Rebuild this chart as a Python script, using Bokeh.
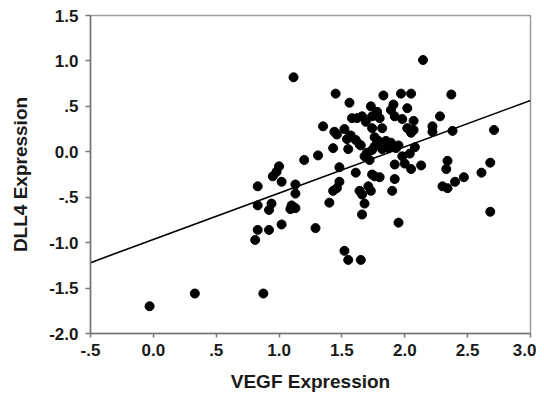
import numpy as np
from bokeh.plotting import figure
from bokeh.models import ColumnDataSource, FixedTicker
from bokeh.embed import file_html
from bokeh.resources import INLINE

# VEGF expression (x) and DLL4 expression (y)
vegf = [-0.03, 0.33, 0.875, 1.115, 2.145, 1.45, 1.83, 1.97, 2.05, 2.37,
        1.56, 1.73, 1.91, 2.02, 1.89, 1.78, 1.74, 1.66, 1.58, 1.62,
        1.80, 1.92, 1.98, 2.07, 2.28, 1.69, 1.35, 1.74, 1.82, 2.22,
        1.52, 2.02, 2.07, 2.05, 2.71, 2.38, 1.44, 1.46, 2.22, 1.57,
        1.54, 1.76, 1.61, 1.79, 1.85, 1.89, 1.64, 1.65, 1.95, 1.76,
        1.43, 1.55, 1.74, 1.82, 1.87, 1.93, 2.08, 1.70, 2.04, 1.31,
        1.98, 1.68, 1.20, 1.72, 2.34, 2.00, 1.92, 1.00, 2.13, 1.48,
        2.05, 2.33, 0.98, 1.61, 2.61, 2.68, 0.95, 1.74, 1.76, 1.80,
        2.47, 1.48, 1.92, 1.02, 2.40, 1.13, 2.30, 0.83, 1.71, 2.34,
        1.46, 1.64, 1.43, 1.73, 1.90, 1.66, 1.13, 1.40, 1.68, 0.94,
        0.83, 1.10, 0.92, 1.09, 1.13, 2.68, 1.66, 0.83, 0.92, 1.02,
        1.29, 0.81, 1.95, 1.52, 1.55, 1.65]
dll4 = [-1.70, -1.56, -1.56, 0.82, 1.01, 0.64, 0.62, 0.64, 0.64, 0.63,
        0.54, 0.50, 0.52, 0.48, 0.46, 0.44, 0.39, 0.39, 0.37, 0.37,
        0.37, 0.39, 0.36, 0.34, 0.39, 0.33, 0.28, 0.26, 0.26, 0.28,
        0.25, 0.26, 0.24, 0.21, 0.24, 0.23, 0.22, 0.19, 0.22, 0.18,
        0.14, 0.16, 0.13, 0.12, 0.12, 0.10, 0.08, 0.07, 0.07, 0.06,
        0.04, 0.03, 0.02, 0.03, 0.04, 0.04, 0.05, -0.01, -0.02, -0.04,
        -0.05, -0.05, -0.09, -0.09, -0.10, -0.13, -0.14, -0.16, -0.15, -0.17,
        -0.19, -0.19, -0.22, -0.23, -0.23, -0.12, -0.27, -0.25, -0.27, -0.28,
        -0.28, -0.33, -0.30, -0.33, -0.33, -0.36, -0.38, -0.38, -0.38, -0.40,
        -0.40, -0.43, -0.43, -0.43, -0.43, -0.47, -0.46, -0.56, -0.57, -0.57,
        -0.59, -0.59, -0.64, -0.63, -0.62, -0.66, -0.69, -0.86, -0.86, -0.80,
        -0.84, -0.97, -0.78, -1.09, -1.19, -1.19]

# Regression line
fit_slope = 0.51
fit_intercept = -0.965

x_ticks = [-0.5, 0.0, 0.5, 1.0, 1.5, 2.0, 2.5, 3.0]
x_tick_labels = ["-.5", "0.0", ".5", "1.0", "1.5", "2.0", "2.5", "3.0"]
y_ticks = [-2.0, -1.5, -1.0, -0.5, 0.0, 0.5, 1.0, 1.5]
y_tick_labels = ["-2.0", "-1.5", "-1.0", "-.5", "0.0", ".5", "1.0", "1.5"]

x_min, x_max = x_ticks[0], x_ticks[-1]
y_min, y_max = y_ticks[0], y_ticks[-1]

p = figure(width=536, height=399, output_backend="svg", toolbar_location=None,
           x_range=(x_min, x_max), y_range=(y_min, y_max),
           min_border_left=90, min_border_right=6, min_border_top=15,
           min_border_bottom=66)

p.background_fill_color = "white"
p.border_fill_color = "white"
p.outline_line_color = "#9a9a9a"
p.outline_line_width = 1.5
p.xgrid.visible = False
p.ygrid.visible = False

fit_x = np.array([x_min, x_max])
fit_y = fit_intercept + fit_slope * fit_x
p.line(fit_x, fit_y, line_color="black", line_width=1.6)

src = ColumnDataSource(dict(x=vegf, y=dll4))
p.scatter("x", "y", source=src, size=9, fill_color="black", line_color="black")

FONT = "Liberation Sans"
for ax, ticks, labels in ((p.xaxis[0], x_ticks, x_tick_labels),
                          (p.yaxis[0], y_ticks, y_tick_labels)):
    ax.ticker = FixedTicker(ticks=ticks)
    ax.major_label_overrides = {t: l for t, l in zip(ticks, labels)}
    ax.axis_line_color = "#777777"
    ax.axis_line_width = 1.5
    ax.major_tick_line_color = "#777777"
    ax.major_tick_line_width = 1.5
    ax.major_tick_in = 0
    ax.major_tick_out = 5
    ax.minor_tick_line_color = None
    ax.major_label_text_font = FONT
    ax.major_label_text_font_style = "bold"
    ax.major_label_text_font_size = "17px"
    ax.major_label_text_color = "#1a1a1a"
    ax.axis_label_text_font = FONT
    ax.axis_label_text_font_style = "bold"
    ax.axis_label_text_font_size = "19px"
    ax.axis_label_text_color = "#1a1a1a"

p.xaxis.axis_label = "VEGF Expression"
p.yaxis.axis_label = "DLL4 Expression"
p.xaxis.major_tick_out = 4
p.xaxis.major_label_standoff = 6
p.yaxis.major_label_standoff = 7
p.xaxis.axis_label_standoff = 12
p.yaxis.axis_label_standoff = 15

open("out.html", "w").write(file_html(p, INLINE))
